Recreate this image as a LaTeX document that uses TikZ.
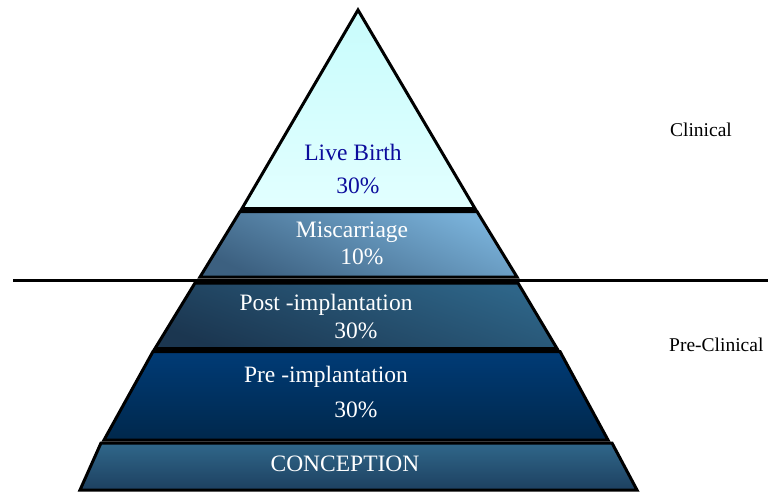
\documentclass[tikz,border=0pt]{standalone}
\usepackage{fontspec}
\setmainfont{Liberation Serif}
\definecolor{birthtop}{HTML}{C8FCFC}
\definecolor{birthbot}{HTML}{E2FFFF}
\definecolor{birthtext}{HTML}{0C0C9C}
\definecolor{misctop}{HTML}{7AB2DA}
\definecolor{miscbot}{HTML}{3C6080}
\definecolor{posttop}{HTML}{2E6588}
\definecolor{postbot}{HTML}{1B3650}
\definecolor{pretop}{HTML}{003B76}
\definecolor{prebot}{HTML}{00284C}
\definecolor{conctop}{HTML}{30678A}
\definecolor{concbot}{HTML}{1D4060}
\begin{document}
\begin{tikzpicture}[x=1pt,y=-1pt]
      \tikzset{layer/.style={draw=black, line width=3pt, line join=miter},
               lbl/.style={font=\fontsize{23.5}{26}\selectfont, text=white, inner sep=0pt},
               side/.style={font=\fontsize{19.5}{22}\selectfont, inner sep=0pt}}
      \useasboundingbox (0,0) rectangle (768,492);
%% Divider
      \coordinate (divL) at (13,280);
      \coordinate (divR) at (768,280);
      \draw[line width=3pt] (divL) -- (divR);
%% Layers
      \shade[layer, top color=birthtop, bottom color=birthbot]
            (358,10) -- (475,208.5) -- (242,208.5) -- cycle;
      \shade[layer, top color=misctop, bottom color=miscbot, shading angle=-25]
            (240,211.5) -- (477,211.5) -- (517,277) -- (200,277) -- cycle;
      \shade[layer, top color=posttop, bottom color=postbot, shading angle=-20]
            (195,283) -- (518,283) -- (557,348.5) -- (155,348.5) -- cycle;
      \shade[layer, top color=pretop, bottom color=prebot]
            (153,351.5) -- (560,351.5) -- (608,440) -- (104,440) -- cycle;
      \shade[layer, top color=conctop, bottom color=concbot]
            (101,443) -- (612,443) -- (637,490) -- (80,490) -- cycle;
%% Labels
      \node[lbl, text=birthtext] (birth) at (353,152) {Live Birth};
      \node[lbl, text=birthtext] (birthpc) at (358,186) {30\%};
      \node[lbl] (misc) at (352,232) {Miscarriage};
      \node[lbl] (miscpc) at (362,257) {10\%};
      \node[lbl] (post) at (326,305) {Post -implantation};
      \node[lbl] (postpc) at (356,331) {30\%};
      \node[lbl] (pre) at (326,377) {Pre -implantation};
      \node[lbl] (prepc) at (356,410) {30\%};
      \node[lbl] (conc) at (345,464) {CONCEPTION};
%% Sides
      \node[side] (clin) at (701,130) {Clinical};
      \node[side, anchor=west] (preclin) at (669,345) {Pre-Clinical};
\end{tikzpicture}
\end{document}
